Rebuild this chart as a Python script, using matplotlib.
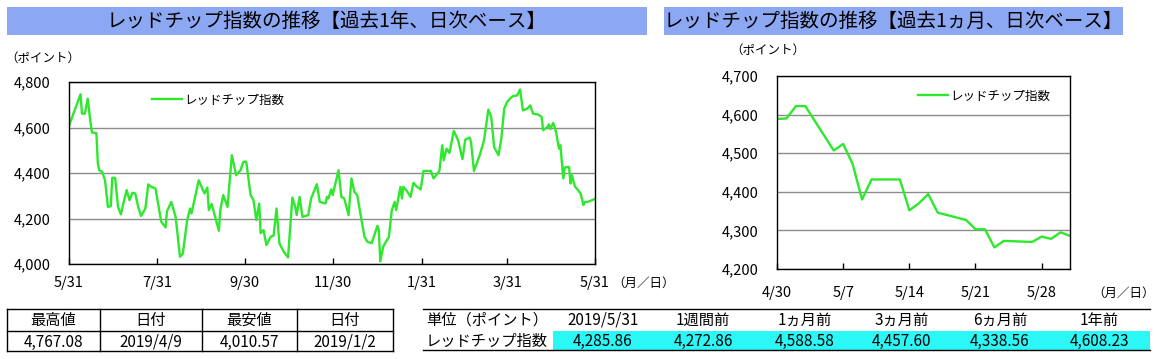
"""レッドチップ指数の推移 (過去1年 / 過去1ヵ月) と表."""

import matplotlib
matplotlib.use('Agg')
import matplotlib.pyplot as plt
import matplotlib.dates as mdates
from matplotlib.patches import Rectangle
import pandas as pd

plt.rcParams['font.family'] = ['Noto Sans CJK JP', 'DejaVu Sans']

# 過去1年 (2018/5/31 からの経過日数, 指数)
year_start = pd.Timestamp('2018-05-31')
year_days = [0, 8, 9, 11, 13, 15, 16, 19, 20, 21, 23, 25, 27, 29, 30, 32, 34, 36, 38,
             40, 42, 44, 46, 48, 50, 53, 55, 57, 60, 64, 67, 68, 71, 74, 77, 79, 82,
             84, 85, 90, 94, 96, 97, 99, 104, 105, 107, 110, 113, 116, 119, 121, 123,
             126, 128, 130, 132, 133, 135, 137, 140, 142, 144, 146, 149, 152, 155, 157,
             158, 160, 162, 166, 168, 172, 174, 178, 179, 180, 182, 183, 187, 189, 191,
             194, 196, 198, 200, 205, 207, 210, 214, 215, 216, 218, 220, 222, 224, 226,
             227, 230, 231, 232, 234, 237, 239, 241, 244, 246, 251, 253, 257, 259, 260,
             262, 264, 267, 270, 273, 275, 278, 279, 281, 285, 288, 291, 293, 295, 298,
             300, 302, 304, 306, 308, 311, 313, 315, 318, 320, 322, 326, 328, 329, 332,
             333, 334, 336, 338, 340, 341, 343, 344, 347, 348, 349, 351, 355, 357, 358,
             360, 363, 365]
year_vals = [4608, 4746, 4661, 4661, 4727, 4617, 4578, 4575, 4442, 4412, 4405, 4368, 4251,
             4254, 4379, 4379, 4251, 4218, 4273, 4325, 4281, 4313, 4310, 4251, 4211, 4244,
             4350, 4339, 4332, 4186, 4161, 4232, 4273, 4207, 4032, 4046, 4193, 4244, 4222,
             4368, 4310, 4336, 4237, 4264, 4146, 4237, 4303, 4251, 4478, 4390, 4412, 4449,
             4450, 4303, 4281, 4193, 4266, 4135, 4149, 4083, 4120, 4125, 4244, 4091, 4054,
             4029, 4292, 4251, 4215, 4295, 4207, 4215, 4288, 4351, 4273, 4266, 4295, 4288,
             4328, 4303, 4412, 4295, 4288, 4215, 4376, 4317, 4303, 4120, 4098, 4091, 4168,
             4149, 4011, 4076, 4098, 4120, 4237, 4273, 4237, 4339, 4288, 4339, 4325, 4295,
             4357, 4342, 4328, 4409, 4409, 4376, 4409, 4522, 4456, 4507, 4488, 4585, 4544,
             4461, 4547, 4556, 4535, 4409, 4478, 4544, 4679, 4646, 4514, 4478, 4551, 4683,
             4712, 4727, 4738, 4741, 4767, 4675, 4683, 4697, 4661, 4656, 4646, 4588, 4602,
             4614, 4593, 4620, 4580, 4507, 4522, 4376, 4424, 4427, 4354, 4390, 4342, 4310,
             4259, 4273, 4273, 4281, 4286]
year_ticks = ['2018-05-31', '2018-07-31', '2018-09-30', '2018-11-30',
              '2019-01-31', '2019-03-31', '2019-05-31']

# 過去1ヵ月
month_dates = ['2019-04-30', '2019-05-01', '2019-05-02', '2019-05-03', '2019-05-06',
               '2019-05-07', '2019-05-08', '2019-05-09', '2019-05-10', '2019-05-13',
               '2019-05-14', '2019-05-15', '2019-05-16', '2019-05-17', '2019-05-20',
               '2019-05-21', '2019-05-22', '2019-05-23', '2019-05-24', '2019-05-27',
               '2019-05-28', '2019-05-29', '2019-05-30', '2019-05-31']
month_vals = [4588.58, 4590, 4622, 4622, 4507, 4524, 4472, 4380, 4432, 4432, 4352, 4370,
              4394, 4346, 4327, 4303, 4303, 4256, 4272.86, 4270, 4284, 4278, 4295, 4285.86]
month_ticks = ['2019-04-30', '2019-05-07', '2019-05-14', '2019-05-21', '2019-05-28']

# 表
hilo_header = ['最高値', '日付', '最安値', '日付']
hilo_values = ['4,767.08', '2019/4/9', '4,010.57', '2019/1/2']
chg_header = ['単位（ポイント）', '2019/5/31', '1週間前', '1ヵ月前', '3ヵ月前', '6ヵ月前', '1年前']
chg_values = ['レッドチップ指数', '4,285.86', '4,272.86', '4,588.58', '4,457.60', '4,338.56', '4,608.23']

LINE_GREEN = '#2EE82E'
BAR_BLUE = '#8DA8F2'
CYAN = '#2CF7F7'
W, H = 1156, 359


def md_fmt(x, _pos):
    d = mdates.num2date(x)
    return f'{d.month}/{d.day}'


def style_axes(ax, ymin, ymax, step, ticks):
    ax.set_ylim(ymin, ymax)
    ax.set_yticks(range(ymin, ymax + 1, step))
    ax.yaxis.set_major_formatter(plt.FuncFormatter(lambda v, p: f'{v:,.0f}'))
    ax.set_xticks(pd.to_datetime(ticks))
    ax.xaxis.set_major_formatter(plt.FuncFormatter(md_fmt))
    ax.grid(axis='y', color='#8c8c8c', lw=1)
    ax.set_axisbelow(True)
    ax.tick_params(axis='y', length=0, pad=13, labelsize=10.5)
    ax.tick_params(axis='x', direction='in', length=4.5, width=1, pad=9, labelsize=10.5)
    for s in ax.spines.values():
        s.set_color('black')
        s.set_linewidth(1)


fig = plt.figure(figsize=(W / 100, H / 100), dpi=100)

# overlay in pixel coordinates for title bars and tables
bg = fig.add_axes([0, 0, 1, 1])
bg.set_xlim(0, W)
bg.set_ylim(H, 0)
bg.axis('off')

bg.add_patch(Rectangle((7, 7), 640, 28, color=BAR_BLUE, lw=0))
bg.add_patch(Rectangle((664, 7), 459, 28, color=BAR_BLUE, lw=0))
bg.text(327, 21, 'レッドチップ指数の推移【過去1年、日次ベース】', ha='center', va='center', fontsize=14)
bg.text(893, 21, 'レッドチップ指数の推移【過去1ヵ月、日次ベース】', ha='center', va='center', fontsize=14)

bg.text(5, 58, '（ポイント）', ha='left', va='center', fontsize=9)
bg.text(730, 50, '（ポイント）', ha='left', va='center', fontsize=9)
bg.text(612, 283, '（月／日）', ha='left', va='center', fontsize=9)
bg.text(1092, 293, '（月／日）', ha='left', va='center', fontsize=9)

# 最高値・最安値の表
col_x = [7, 100, 202, 297, 393]
for y in (309, 331, 351):
    bg.plot([col_x[0], col_x[-1]], [y, y], color='black', lw=1)
for x in col_x:
    bg.plot([x, x], [309, 351], color='black', lw=1)
for i in range(4):
    cx = (col_x[i] + col_x[i + 1]) / 2
    bg.text(cx, 320, hilo_header[i], ha='center', va='center', fontsize=11)
    bg.text(cx, 342, hilo_values[i], ha='center', va='center', fontsize=11)

# 騰落の表
bg.add_patch(Rectangle((553, 331), 597, 19, color=CYAN, lw=0))
bg.plot([423, 1150], [309, 309], color='black', lw=1)
bg.plot([423, 1150], [350, 350], color='black', lw=1)
chg_x = [487, 603, 703, 805, 902, 1000, 1099]
for cx, h, v in zip(chg_x, chg_header, chg_values):
    bg.text(cx, 320, h, ha='center', va='center', fontsize=11)
    bg.text(cx, 341, v, ha='center', va='center', fontsize=11)

# 過去1年
ax1 = fig.add_axes([69 / W, 1 - 264 / H, 526 / W, 182 / H])
year_x = year_start + pd.to_timedelta(year_days, unit='D')
ax1.plot(year_x, year_vals, color=LINE_GREEN, lw=1.7, label='レッドチップ指数')
ax1.set_xlim(pd.Timestamp(year_ticks[0]), pd.Timestamp(year_ticks[-1]))
style_axes(ax1, 4000, 4800, 200, year_ticks)
ax1.legend(loc='center left', bbox_to_anchor=(0.158, 0.90), frameon=False, fontsize=9,
           borderpad=0, borderaxespad=0, handlelength=2.4, handletextpad=0.2)

# 過去1ヵ月
ax2 = fig.add_axes([777 / W, 1 - 269 / H, 293 / W, 193 / H])
ax2.plot(pd.to_datetime(month_dates), month_vals, color=LINE_GREEN, lw=1.7, label='レッドチップ指数')
ax2.set_xlim(pd.Timestamp('2019-04-30'), pd.Timestamp('2019-05-31'))
style_axes(ax2, 4200, 4700, 100, month_ticks)
ax2.tick_params(axis='x', pad=12)
ax2.legend(loc='center left', bbox_to_anchor=(0.481, 0.896), frameon=False, fontsize=9,
           borderpad=0, borderaxespad=0, handlelength=2.4, handletextpad=0.2)

fig.savefig('out.png', dpi=100)
